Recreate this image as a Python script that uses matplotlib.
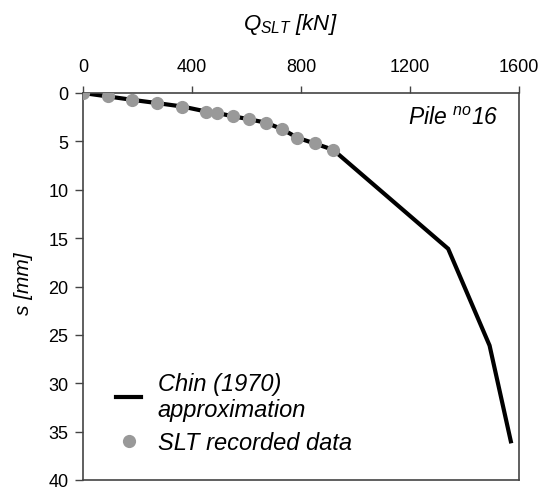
import matplotlib
matplotlib.use("Agg")
import matplotlib.pyplot as plt
from matplotlib.lines import Line2D

plt.rcParams["font.family"] = ["Liberation Sans", "DejaVu Sans"]
plt.rcParams["mathtext.fontset"] = "custom"
plt.rcParams["mathtext.it"] = "Liberation Sans:italic"
plt.rcParams["mathtext.rm"] = "Liberation Sans:italic"

# Static load test readings: load Q [kN] vs settlement s [mm]
q_slt = [0, 90, 179, 271, 365, 453, 490, 549, 609, 670, 730, 787, 850, 918]
s_slt = [0, 0.35, 0.70, 1.04, 1.40, 1.92, 2.05, 2.40, 2.71, 3.06, 3.72, 4.63, 5.21, 5.87]

# Chin (1970) hyperbolic extrapolation beyond the last reading
q_chin_ext = [1340, 1492, 1570]
s_chin_ext = [16.1, 26.1, 36.0]
q_chin = q_slt + q_chin_ext
s_chin = s_slt + s_chin_ext

x_ticks = [0, 400, 800, 1200, 1600]
y_ticks = [0, 5, 10, 15, 20, 25, 30, 35, 40]

fig = plt.figure(figsize=(5.43, 4.89), dpi=100)
ax = fig.add_axes([83 / 543, 1 - 481 / 489, (519 - 83) / 543, (481 - 94) / 489])

ax.plot(q_chin, s_chin, color="black", lw=3, solid_joinstyle="miter", zorder=2)
ax.plot(q_slt, s_slt, "o", color="#999999", ms=9.5, mec="none", zorder=3)

ax.set_xlim(0, 1600)
ax.set_ylim(40, 0)
ax.set_xticks(x_ticks)
ax.set_yticks(y_ticks)
ax.xaxis.tick_top()
ax.xaxis.set_label_position("top")
ax.tick_params(axis="x", which="both", top=True, bottom=False, direction="out",
               length=5, width=1, color="#444444", labelsize=13, pad=8)
ax.tick_params(axis="y", which="both", left=True, right=False, direction="out",
               length=5.5, width=1, color="#444444", labelsize=13, pad=5)
for sp in ax.spines.values():
    sp.set_color("#444444")
    sp.set_linewidth(1.2)

ax.set_xlabel("$Q_{SLT}$ [kN]", fontsize=16, style="italic")
ax.xaxis.set_label_coords(0.475, 1.0 + (94 - 25) / 387, transform=ax.transAxes)
ax.xaxis.label.set_va("center")
ax.set_ylabel("s [mm]", fontsize=15, style="italic")
ax.yaxis.set_label_coords(-(83 - 23) / 436, 0.51, transform=ax.transAxes)
ax.yaxis.label.set_va("center")

ax.text(1524, 2.5, "Pile $^{no}$16", fontsize=16.5, style="italic",
        ha="right", va="center")

handles = [
    Line2D([], [], color="black", lw=3),
    Line2D([], [], marker="o", ls="none", color="#999999", ms=9.5, mec="none"),
]
labels = ["Chin (1970)\napproximation", "SLT recorded data"]
leg = ax.legend(handles, labels, loc="lower left", bbox_to_anchor=(0.055, 0.043),
                frameon=False, prop={"size": 17, "style": "italic"},
                handlelength=1.05, handletextpad=0.7, labelspacing=0.4,
                borderaxespad=0)

fig.savefig("out.png", dpi=100)
